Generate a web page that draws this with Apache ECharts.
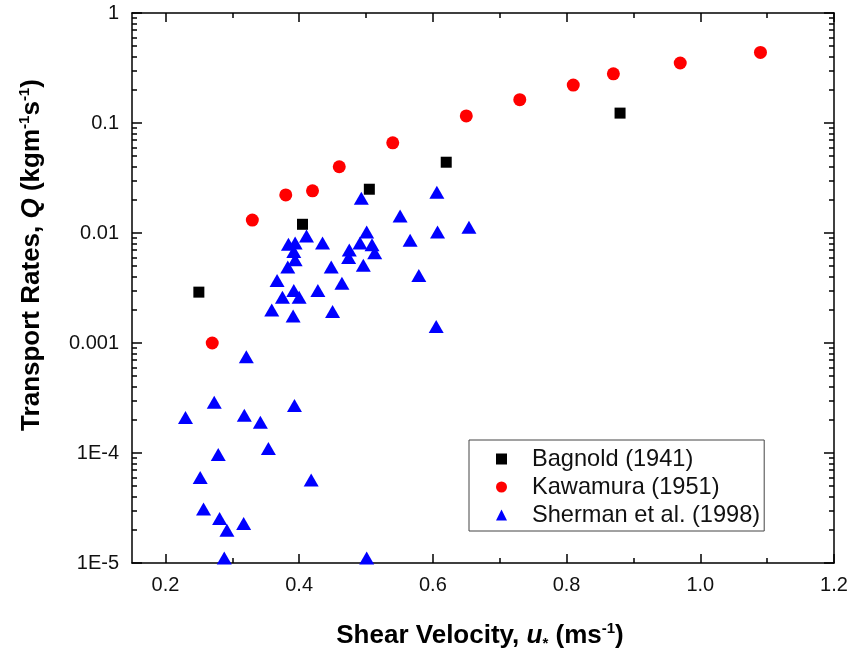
<!DOCTYPE html>
<html><head><meta charset="utf-8">
<script src="https://cdn.jsdelivr.net/npm/echarts@6/dist/echarts.min.js"></script>
<style>html,body{margin:0;padding:0;background:#fff}#c{width:852px;height:655px}</style>
</head><body><div id="c"></div>
<script>
// ---- data ----
const bagnoldU = [0.25, 0.405, 0.505, 0.62, 0.88];
const bagnoldQ = [0.0029, 0.012, 0.025, 0.044, 0.123];
const kawamuraU = [0.27, 0.33, 0.38, 0.42, 0.46, 0.54, 0.65, 0.73, 0.81, 0.87, 0.97, 1.09];
const kawamuraQ = [0.001, 0.0131, 0.0222, 0.0242, 0.040, 0.066, 0.116, 0.163, 0.221, 0.280, 0.351, 0.438];
const shermanU = [0.493, 0.606, 0.551, 0.411, 0.607, 0.654, 0.435, 0.501, 0.384, 0.394, 0.392, 0.394, 0.383,
  0.566, 0.475, 0.491, 0.509, 0.513, 0.474, 0.496, 0.448, 0.579, 0.367, 0.464, 0.428, 0.392, 0.375, 0.400,
  0.359, 0.391, 0.450, 0.605, 0.321, 0.273, 0.230, 0.318, 0.342, 0.393, 0.354, 0.279, 0.252, 0.418, 0.257,
  0.281, 0.317, 0.292, 0.288, 0.501];
const shermanQ = [0.0207, 0.0235, 0.0143, 0.0094, 0.0102, 0.0113, 0.0081, 0.0102, 0.0079, 0.0081, 0.0068, 0.0057, 0.0049,
  0.0086, 0.0070, 0.0081, 0.0078, 0.0066, 0.0060, 0.0051, 0.0049, 0.0041, 0.0037, 0.0035, 0.0030, 0.0030, 0.0026, 0.0026,
  0.0020, 0.00176, 0.00193, 0.00141, 0.00075, 0.00029, 0.00021, 0.00022, 0.00019, 0.00027, 0.00011, 0.000097, 0.00006, 0.0000567, 0.0000309,
  0.0000254, 0.0000229, 0.0000199, 0.0000111, 0.0000111];
const seriesNames = ['Bagnold (1941)', 'Kawamura (1951)', 'Sherman et al. (1998)'];
const xMajorTicks = [0.2, 0.4, 0.6, 0.8, 1.0, 1.2];
const xMinorTicks = [0.3, 0.5, 0.7, 0.9, 1.1];
const yMajorTicks = [1e-5, 1e-4, 1e-3, 1e-2, 1e-1, 1];
const yTickLabels = ['1E-5', '1E-4', '0.001', '0.01', '0.1', '1'];
const yMinorTicks = [];
for (let d = -5; d < 0; d++) for (let k = 2; k <= 9; k++) yMinorTicks.push(k * Math.pow(10, d));

const zip = (a, b) => a.map((v, i) => [v, b[i]]);
const FONT = "'Liberation Sans', Arial, sans-serif";
const AX = { color: '#000', width: 1.5 };

function yLabel(v) {
  const lv = Math.log10(v);
  for (let i = 0; i < yMajorTicks.length; i++) {
    if (Math.abs(Math.log10(yMajorTicks[i]) - lv) < 1e-6) return yTickLabels[i];
  }
  return '';
}

const titleRich = {
  b: { fontFamily: FONT, fontSize: 26, fontWeight: 'bold', color: '#000', lineHeight: 30 },
  i: { fontFamily: FONT, fontSize: 26, fontWeight: 'bold', fontStyle: 'italic', color: '#000', lineHeight: 30 },
  sup: { fontFamily: FONT, fontSize: 15, fontWeight: 'bold', color: '#000', lineHeight: 15, verticalAlign: 'top' },
  sub: { fontFamily: FONT, fontSize: 15, fontWeight: 'bold', color: '#000', lineHeight: 15, verticalAlign: 'bottom' }
};

const xBase = { type: 'value', min: 0.15, max: 1.2, splitLine: { show: false }, gridIndex: 0 };
const yBase = { type: 'log', logBase: 10, min: 1e-5, max: 1, splitLine: { show: false }, gridIndex: 0 };

const option = {
  animation: false,
  backgroundColor: '#fff',
  grid: { left: 132, right: 18, top: 13, bottom: 92, containLabel: false, outerBoundsMode: 'none' },
  legend: {
    orient: 'vertical', left: 469, top: 440,
    data: seriesNames,
    backgroundColor: '#fff',
    borderColor: '#444', borderWidth: 1,
    padding: [7, 4, 4, 27],
    itemWidth: 11, itemHeight: 11, itemGap: 4,
    textStyle: { fontFamily: FONT, fontSize: 23.6, color: '#111', lineHeight: 22, padding: [0, 0, 0, 20] }
  },
  xAxis: [
    Object.assign({}, xBase, {
      position: 'bottom',
      axisLine: { show: true, onZero: false, lineStyle: AX },
      axisTick: { show: true, inside: true, length: 9, lineStyle: AX, customValues: xMajorTicks },
      axisLabel: { show: true, customValues: xMajorTicks, margin: 12, fontFamily: FONT, fontSize: 20, color: '#111',
        formatter: v => Number(v).toFixed(1) },
      name: '{b|Shear Velocity, }{i|u}{sub|*}{b| (ms}{sup|-1}{b|)}',
      nameLocation: 'middle', nameGap: 58, nameMoveOverlap: false,
      nameTextStyle: { rich: titleRich, padding: [0, 6, 0, 0] }
    }),
    Object.assign({}, xBase, {
      position: 'bottom',
      axisLine: { show: false },
      axisTick: { show: true, inside: true, length: 5, lineStyle: AX, customValues: xMinorTicks },
      axisLabel: { show: false }
    }),
    Object.assign({}, xBase, {
      position: 'top',
      axisLine: { show: true, onZero: false, lineStyle: AX },
      axisTick: { show: true, inside: true, length: 9, lineStyle: AX, customValues: xMajorTicks },
      axisLabel: { show: false }
    }),
    Object.assign({}, xBase, {
      position: 'top',
      axisLine: { show: false },
      axisTick: { show: true, inside: true, length: 5, lineStyle: AX, customValues: xMinorTicks },
      axisLabel: { show: false }
    })
  ],
  yAxis: [
    Object.assign({}, yBase, {
      position: 'left',
      axisLine: { show: true, onZero: false, lineStyle: AX },
      axisTick: { show: true, inside: true, length: 10, lineStyle: AX, customValues: yMajorTicks },
      axisLabel: { show: true, customValues: yMajorTicks, margin: 13, fontFamily: FONT, fontSize: 20, color: '#111',
        formatter: v => yLabel(v) },
      name: '{b|Transport Rates, }{i|Q}{b| (kgm}{sup|-1}{b|s}{sup|-1}{b|)}',
      nameLocation: 'middle', nameGap: 85, nameMoveOverlap: false,
      nameTextStyle: { rich: titleRich, padding: [0, 0, 0, 66] }
    }),
    Object.assign({}, yBase, {
      position: 'left',
      axisLine: { show: false },
      axisTick: { show: true, inside: true, length: 5, lineStyle: AX, customValues: yMinorTicks },
      axisLabel: { show: false }
    }),
    Object.assign({}, yBase, {
      position: 'right',
      axisLine: { show: true, onZero: false, lineStyle: AX },
      axisTick: { show: true, inside: true, length: 10, lineStyle: AX, customValues: yMajorTicks },
      axisLabel: { show: false }
    }),
    Object.assign({}, yBase, {
      position: 'right',
      axisLine: { show: false },
      axisTick: { show: true, inside: true, length: 5, lineStyle: AX, customValues: yMinorTicks },
      axisLabel: { show: false }
    })
  ],
  series: [
    { name: seriesNames[0], type: 'scatter', xAxisIndex: 0, yAxisIndex: 0, symbol: 'rect', symbolSize: 11,
      itemStyle: { color: '#000000', opacity: 1 }, data: zip(bagnoldU, bagnoldQ) },
    { name: seriesNames[1], type: 'scatter', xAxisIndex: 0, yAxisIndex: 0, symbol: 'circle', symbolSize: 13,
      itemStyle: { color: '#ff0000', opacity: 1 }, data: zip(kawamuraU, kawamuraQ) },
    { name: seriesNames[2], type: 'scatter', xAxisIndex: 0, yAxisIndex: 0, symbol: 'triangle', symbolSize: [15, 13],
      itemStyle: { color: '#0000ff', opacity: 1 }, data: zip(shermanU, shermanQ) }
  ]
};
const chart = echarts.init(document.getElementById('c'), null, { renderer: 'canvas' });
chart.setOption(option);
</script>
</body></html>
